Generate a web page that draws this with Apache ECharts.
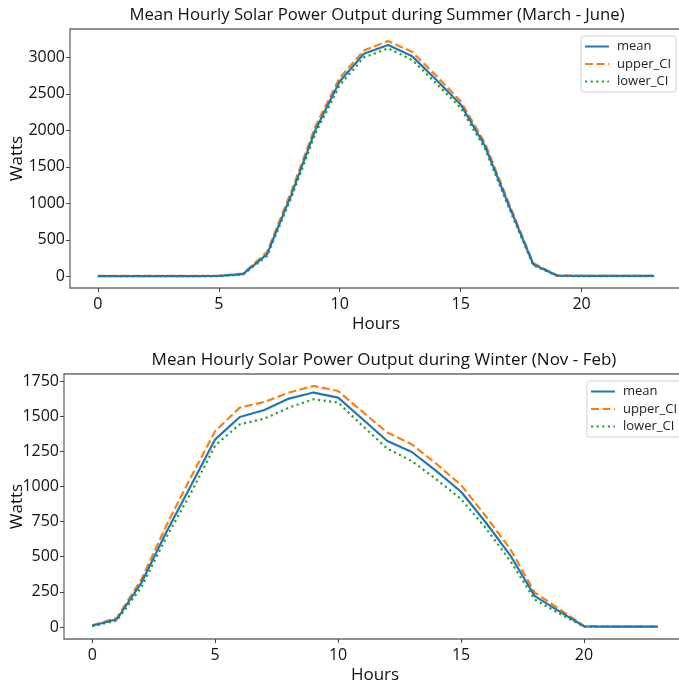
<!DOCTYPE html>
<html>
<head>
<meta charset="utf-8">
<script src="https://cdn.jsdelivr.net/npm/echarts@6/dist/echarts.min.js"></script>
<style>
  html, body { margin: 0; padding: 0; background: #fff; }
  #chart { width: 679px; height: 684px; }
</style>
</head>
<body>
<div id="chart"></div>
<script>
// hours of the day
var hours = [];
for (var h = 0; h < 24; h++) hours.push(h);

// summer (March - June), watts
var summerMean  = [3, 3, 3, 3, 3, 5, 30, 305, 1120, 2010, 2670, 3050, 3170, 3015, 2690, 2355, 1790, 965, 165, 8, 5, 5, 5, 5];
var summerUpper = [5, 5, 5, 5, 5, 8, 38, 335, 1165, 2060, 2720, 3095, 3225, 3075, 2745, 2400, 1830, 995, 182, 11, 7, 7, 7, 7];
var summerLower = [1, 1, 1, 1, 1, 3, 24, 280, 1080, 1960, 2620, 3000, 3125, 2965, 2640, 2310, 1750, 935, 150, 5, 3, 3, 3, 3];

// winter (Nov - Feb), watts
var winterMean  = [9, 55, 315, 670, 1002, 1335, 1494, 1544, 1625, 1668, 1632, 1478, 1323, 1245, 1109, 962, 745, 510, 220, 111, 5, 2, 2, 2];
var winterUpper = [12, 65, 340, 717, 1062, 1394, 1561, 1601, 1668, 1715, 1679, 1530, 1383, 1299, 1160, 1010, 790, 555, 245, 128, 7, 3, 3, 3];
var winterLower = [5, 45, 285, 634, 950, 1292, 1442, 1482, 1561, 1620, 1597, 1430, 1269, 1180, 1050, 910, 705, 470, 195, 95, 3, 1, 1, 1];

var xTicks = [0, 5, 10, 15, 20];
var summerTicks = [0, 500, 1000, 1500, 2000, 2500, 3000];
var winterTicks = [0, 250, 500, 750, 1000, 1250, 1500, 1750];

var FONT = '"Open Sans", sans-serif';
var seriesNames = ['mean', 'upper_CI', 'lower_CI'];
var colors = ['#1f77b4', '#ff7f0e', '#2ca02c'];
var dashes = ['solid', [8, 3.5], [2.2, 3.4]];

function zip(xs, ys) {
	var out = [];
	for (var i = 0; i < xs.length; i++) out.push([xs[i], ys[i]]);
	return out;
}

function plain(v) { return String(v); }

function xAxisCfg(gridIndex) {
	return {
		type: 'value', gridIndex: gridIndex,
		min: -1.15, max: 24.15,
		name: 'Hours', nameLocation: 'middle', nameGap: 28, nameMoveOverlap: false,
		nameTextStyle: { fontFamily: FONT, fontSize: 17, color: '#111' },
		axisLine: { show: false, onZero: false },
		axisTick: { show: true, length: 4, customValues: xTicks, lineStyle: { color: '#444' } },
		axisLabel: { customValues: xTicks, margin: 8, formatter: plain, fontFamily: FONT, fontSize: 16, color: '#111' },
		splitLine: { show: false }
	};
}

function yAxisCfg(gridIndex, min, max, ticks, gap) {
	return {
		type: 'value', gridIndex: gridIndex,
		min: min, max: max,
		name: 'Watts', nameLocation: 'middle', nameGap: gap, nameRotate: 90, nameMoveOverlap: false,
		nameTextStyle: { fontFamily: FONT, fontSize: 17, color: '#111' },
		axisLine: { show: false, onZero: false },
		axisTick: { show: true, length: 4, customValues: ticks, lineStyle: { color: '#444' } },
		axisLabel: { customValues: ticks, margin: 5, formatter: plain, fontFamily: FONT, fontSize: 16, color: '#111' },
		splitLine: { show: false }
	};
}

function lineSeries(name, idx, gridIdx, ys) {
	return {
		name: name, type: 'line',
		xAxisIndex: gridIdx, yAxisIndex: gridIdx,
		data: zip(hours, ys),
		symbol: 'none', silent: true,
		lineStyle: { color: colors[idx], width: 2.2, type: dashes[idx], cap: 'butt' },
		itemStyle: { color: colors[idx] },
		z: 3 - idx
	};
}

function legendCfg(left, top) {
	return {
		orient: 'vertical', left: left, top: top,
		data: seriesNames,
		itemWidth: 24, itemHeight: 14, itemGap: 4.5,
		padding: [4, 5, 4, 3],
		borderColor: '#d0d0d0', borderWidth: 1, borderRadius: 3,
		backgroundColor: 'rgba(255,255,255,0.85)',
		itemStyle: { opacity: 0, borderWidth: 0 },
		textStyle: { fontFamily: FONT, fontSize: 13, color: '#222', padding: [0, 0, 0, 3] },
		selectedMode: false
	};
}

var myChart = echarts.init(document.getElementById('chart'));

var option = {
	backgroundColor: '#fff',
	animation: false,
	title: [
		{ text: 'Mean Hourly Solar Power Output during Summer (March - June)', left: 372, top: 2, textAlign: 'center',
		  textStyle: { fontFamily: FONT, fontSize: 16.7, fontWeight: 'normal', color: '#111' } },
		{ text: 'Mean Hourly Solar Power Output during Winter (Nov - Feb)', left: 379, top: 347, textAlign: 'center',
		  textStyle: { fontFamily: FONT, fontSize: 17, fontWeight: 'normal', color: '#111' } }
	],
	legend: [legendCfg(581, 36), legendCfg(587, 381)],
	grid: [
		{ left: 70, top: 29, width: 612, height: 259, show: true, borderColor: '#6b6b6b', borderWidth: 1.3,
		  containLabel: false, outerBoundsMode: 'none' },
		{ left: 64, top: 374, width: 622, height: 265, show: true, borderColor: '#6b6b6b', borderWidth: 1.3,
		  containLabel: false, outerBoundsMode: 'none' }
	],
	xAxis: [xAxisCfg(0), xAxisCfg(1)],
	yAxis: [yAxisCfg(0, -160, 3390, summerTicks, 44), yAxisCfg(1, -85.5, 1800, winterTicks, 38)],
	series: [
		lineSeries('mean', 0, 0, summerMean),
		lineSeries('upper_CI', 1, 0, summerUpper),
		lineSeries('lower_CI', 2, 0, summerLower),
		lineSeries('mean', 0, 1, winterMean),
		lineSeries('upper_CI', 1, 1, winterUpper),
		lineSeries('lower_CI', 2, 1, winterLower)
	]
};

myChart.setOption(option);
</script>
</body>
</html>
